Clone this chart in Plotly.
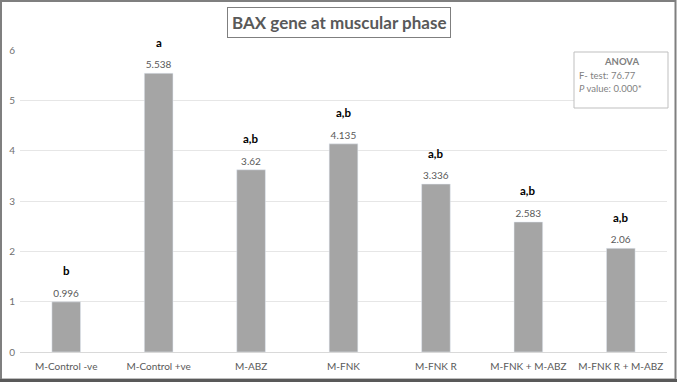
import plotly.graph_objects as go

categories = ["M-Control -ve", "M-Control +ve", "M-ABZ", "M-FNK", "M-FNK R",
              "M-FNK + M-ABZ", "M-FNK R + M-ABZ"]
values = [0.996, 5.538, 3.62, 4.135, 3.336, 2.583, 2.06]
value_labels = ["0.996", "5.538", "3.62", "4.135", "3.336", "2.583", "2.06"]
letters = ["b", "a", "a,b", "a,b", "a,b", "a,b", "a,b"]
y_ticks = [0, 1, 2, 3, 4, 5, 6]

W, H = 677, 382
L, R, T, B = 20, 10, 50, 30
pw, ph = W - L - R, H - T - B

def px_x(px):
    return (px - L) / pw

def px_y(py):
    return (H - B - py) / ph

FONT = "Lato"
GREY = "#595959"

fig = go.Figure()
fig.add_trace(go.Bar(
    x=categories, y=values, marker_color="#A5A5A5",
    text=value_labels, textposition="outside",
    textfont=dict(family=FONT, size=10, color=GREY),
    cliponaxis=False, hoverinfo="skip",
))

annotations = []
for c, v, l in zip(categories, values, letters):
    annotations.append(dict(
        x=c, y=v, xref="x", yref="y", text="<b>" + l + "</b>", showarrow=False,
        yshift=31, font=dict(family=FONT, size=11.5, color="#000000"),
    ))

annotations.append(dict(
    x=px_x(338.5), y=px_y(22.5), xref="paper", yref="paper",
    xanchor="center", yanchor="middle",
    text="<b>BAX gene at muscular phase</b>", showarrow=False,
    font=dict(family=FONT, size=17, color=GREY),
    bordercolor="#7F7F7F", borderwidth=1, borderpad=4, bgcolor="white",
))
annotations.append(dict(
    x=px_x(621), y=px_y(62), xref="paper", yref="paper",
    text="<b>ANOVA</b>", showarrow=False, xanchor="center", yanchor="middle",
    font=dict(family=FONT, size=9.5, color="#7F7F7F"),
))
annotations.append(dict(
    x=px_x(577), y=px_y(75), xref="paper", yref="paper",
    text="F- test: 76.77", showarrow=False, xanchor="left", yanchor="middle",
    font=dict(family=FONT, size=9.5, color="#7F7F7F"),
))
annotations.append(dict(
    x=px_x(577), y=px_y(88), xref="paper", yref="paper",
    text="<i>P</i> value: 0.000*", showarrow=False, xanchor="left", yanchor="middle",
    font=dict(family=FONT, size=9.5, color="#7F7F7F"),
))

shapes = [
    dict(type="rect", xref="paper", yref="paper",
         x0=px_x(574), x1=px_x(668), y0=px_y(108), y1=px_y(52),
         line=dict(color="#BFBFBF", width=1), fillcolor="white", layer="above"),
    dict(type="rect", xref="paper", yref="paper",
         x0=px_x(1), x1=px_x(675.5), y0=px_y(379.5), y1=px_y(1),
         line=dict(color="#7F7F7F", width=2), layer="above"),
    dict(type="line", xref="paper", yref="paper",
         x0=px_x(0), x1=px_x(677), y0=px_y(380.5), y1=px_y(380.5),
         line=dict(color="#595959", width=3), layer="above"),
]

fig.update_layout(
    width=W, height=H, margin=dict(l=L, r=R, t=T, b=B),
    paper_bgcolor="white", plot_bgcolor="white",
    bargap=0.69, showlegend=False,
    annotations=annotations, shapes=shapes,
    xaxis=dict(showline=True, linecolor="#D9D9D9", linewidth=1,
               tickfont=dict(family=FONT, size=10, color=GREY), ticks="",
               ticklabelstandoff=5),
    yaxis=dict(range=[0, 6], tickvals=y_ticks, showgrid=True, gridcolor="#E6E6E6",
               zeroline=False, tickfont=dict(family=FONT, size=10, color="#6F6F6F"),
               ticklabelstandoff=4),
    font=dict(family=FONT),
)
fig.write_html("out.html")
